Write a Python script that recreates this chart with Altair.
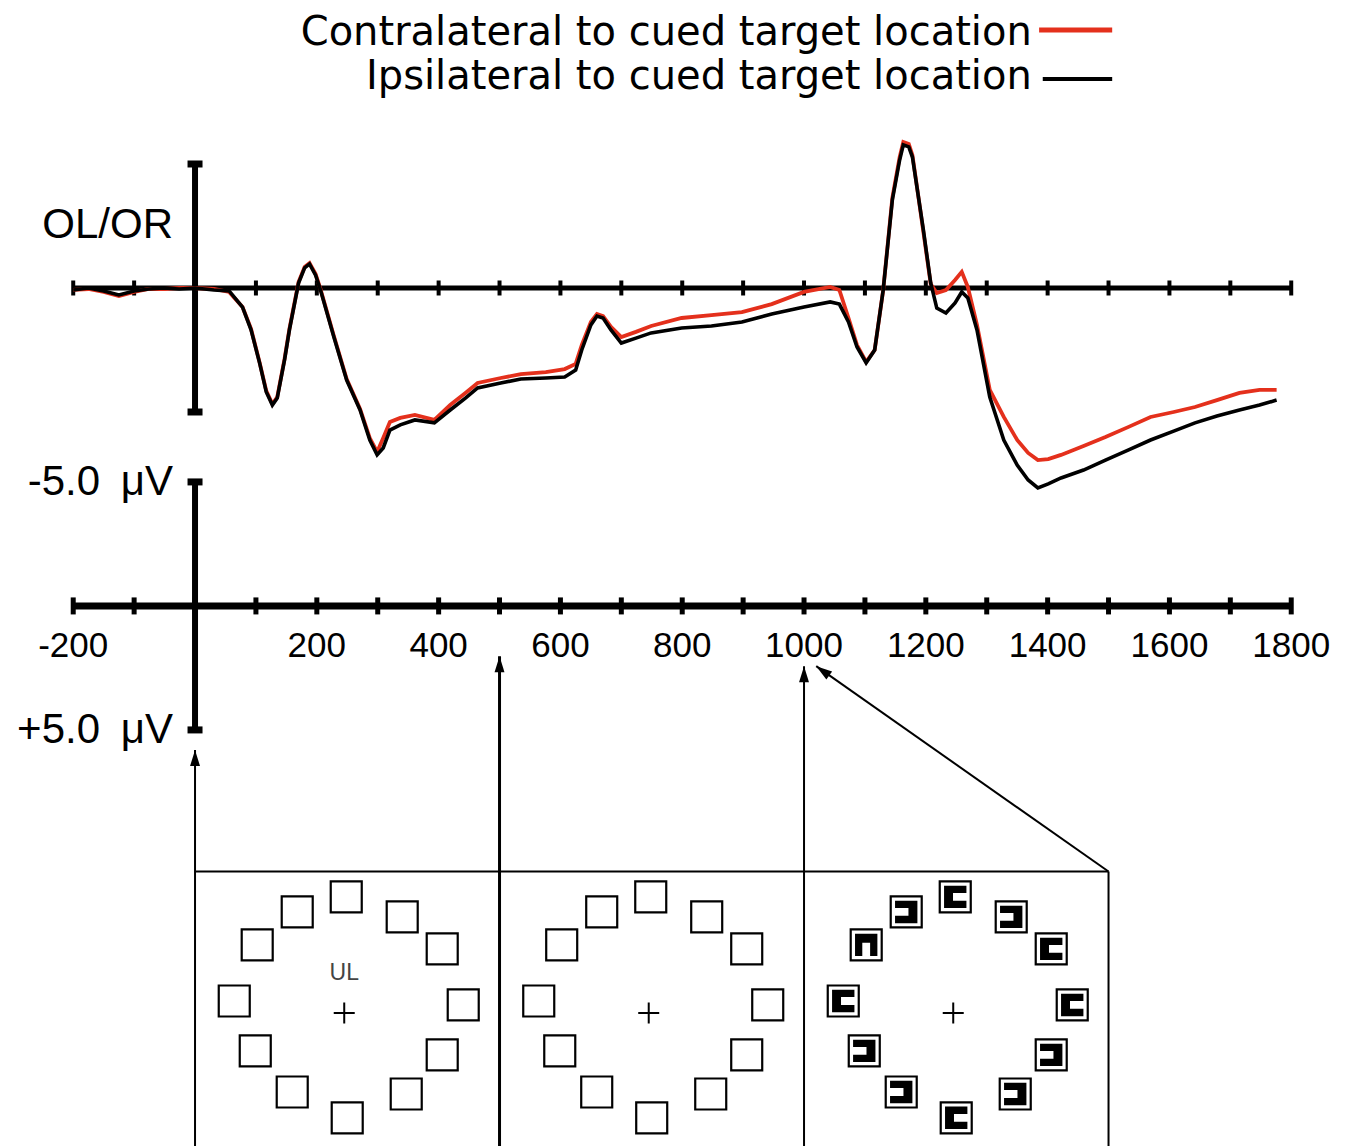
import altair as alt
import pandas as pd

# ---------------- data ----------------
TIME_MS = [-200, -175, -150, -125, -100, -76, -51, -26, 0, 31, 56, 78, 92, 106, 117, 127, 135, 147,
           155, 170, 180, 188, 198, 206, 228, 249, 271, 287, 299, 309, 320, 337, 361, 393, 419, 444,
           464, 502, 535, 576, 607, 625, 635, 650, 660, 670, 683, 700, 724, 749, 799, 848, 898, 947,
           1000, 1043, 1058, 1073, 1087, 1102, 1116, 1130, 1145, 1157, 1163, 1172, 1178, 1196, 1208,
           1218, 1233, 1248, 1259, 1269, 1284, 1305, 1328, 1350, 1368, 1384, 1401, 1422, 1459, 1495,
           1533, 1569, 1607, 1642, 1678, 1715, 1748, 1776]

# microvolts, negative plotted upward
IPSI_UV = [0.08, 0.0, 0.12, 0.28, 0.12, 0.04, 0.0, 0.04, 0.0, 0.08, 0.12, 0.77, 1.69, 3.02, 4.19,
           4.72, 4.44, 2.90, 1.69, -0.20, -0.81, -0.97, -0.52, 0.08, 1.98, 3.71, 4.92, 6.13, 6.73,
           6.45, 5.73, 5.52, 5.32, 5.44, 4.92, 4.44, 4.03, 3.83, 3.67, 3.63, 3.59, 3.31, 2.50, 1.49,
           1.13, 1.21, 1.69, 2.22, 2.02, 1.81, 1.61, 1.53, 1.37, 1.05, 0.77, 0.56, 0.65, 1.37, 2.38,
           3.02, 2.50, 0.08, -3.55, -5.16, -5.77, -5.69, -5.28, -2.34, -0.20, 0.81, 1.01, 0.60, 0.16,
           0.40, 1.69, 4.40, 6.13, 7.14, 7.74, 8.06, 7.90, 7.66, 7.34, 6.94, 6.53, 6.13, 5.77, 5.44,
           5.16, 4.92, 4.72, 4.52]

CONTRA_UV = [0.08, 0.04, 0.16, 0.32, 0.16, 0.04, 0.04, 0.0, 0.0, 0.04, 0.16, 0.77, 1.65, 3.00, 4.15,
             4.68, 4.40, 2.86, 1.65, -0.24, -0.85, -1.00, -0.56, 0.04, 1.94, 3.67, 4.88, 6.05, 6.61,
             6.05, 5.40, 5.24, 5.12, 5.32, 4.72, 4.23, 3.83, 3.63, 3.47, 3.39, 3.27, 3.06, 2.30, 1.37,
             1.05, 1.13, 1.57, 1.98, 1.77, 1.53, 1.21, 1.09, 0.97, 0.65, 0.16, -0.04, 0.08, 1.21, 2.30,
             2.98, 2.50, 0.08, -3.63, -5.28, -5.89, -5.81, -5.36, -2.26, -0.16, 0.20, 0.08, -0.32,
             -0.65, -0.04, 1.49, 4.11, 5.20, 6.13, 6.65, 6.94, 6.90, 6.73, 6.37, 6.01, 5.60, 5.20,
             5.00, 4.80, 4.52, 4.23, 4.11, 4.11]

LEGEND_LABELS = ["Contralateral to cued target location", "Ipsilateral to cued target location"]
TICK_VALUES = list(range(-200, 1801, 100))
TICK_LABELS = [-200, 200, 400, 600, 800, 1000, 1200, 1400, 1600, 1800]
SCALE_TEXT = ["-5.0", "+5.0"]
SCALE_UV = 5.0
LOWER_BASE = 12.82          # offset of the calibration axis (in µV units below the waveform)
EPOCH = [-200, 1800]

PANEL_EDGES_MS = [0, 500, 1000, 1500]
PANEL_CENTERS_MS = [245, 745, 1245]
PANEL_TOP = 23.53
PANEL_MID = 29.23
RING_DX = [3.3, -77.2, 95.2, -142.9, 160.9, -180.6, 195.4, -146.1, 160.9, -85.4, 101.8, 4.9]
RING_DY = [-4.68, -4.07, -3.87, -2.74, -2.58, -0.48, -0.32, 1.53, 1.69, 3.19, 3.27, 4.23]
GLYPH_OPEN = ["R", "L", "L", "D", "R", "R", "R", "L", "L", "L", "L", "R"]

RED = "#e4301c"

# ---------------- scales ----------------
X0, X1 = -307.1, 1896.5
Y0 = -11.29
Y1 = Y0 + 1126 / 24.8
XS = alt.Scale(domain=[X0, X1], nice=False, zero=False)
YS = alt.Scale(domain=[Y0, Y1], nice=False, zero=False, reverse=True)


def X(f):
    return alt.X(f, type="quantitative", scale=XS, axis=None)


def Y(f):
    return alt.Y(f, type="quantitative", scale=YS, axis=None)


SANS = "Liberation Sans, Arial, sans-serif"
NARROW = "Liberation Sans Narrow, Arial Narrow, Liberation Sans, sans-serif"

# ---------------- waveforms ----------------
contra = pd.DataFrame({"t": TIME_MS, "uv": CONTRA_UV})
ipsi = pd.DataFrame({"t": TIME_MS, "uv": IPSI_UV})
red_line = alt.Chart(contra).mark_line(color=RED, strokeWidth=3.8).encode(x=X("t"), y=Y("uv"))
black_line = alt.Chart(ipsi).mark_line(color="black", strokeWidth=3.6).encode(x=X("t"), y=Y("uv"))

# ---------------- axes ----------------
axes_df = pd.DataFrame({"t0": [EPOCH[0], EPOCH[0]], "t1": [EPOCH[1], EPOCH[1]],
                        "v": [0.0, LOWER_BASE]})
upper_line = alt.Chart(axes_df.iloc[[0]]).mark_rule(color="black", strokeWidth=5).encode(
    x=X("t0"), x2="t1", y=Y("v"))
lower_line = alt.Chart(axes_df.iloc[[1]]).mark_rule(color="black", strokeWidth=7).encode(
    x=X("t0"), x2="t1", y=Y("v"))

ticks_up = alt.Chart(pd.DataFrame({"t": TICK_VALUES, "v": 0.0})).mark_tick(
    orient="vertical", size=15, thickness=4, color="black", opacity=1).encode(x=X("t"), y=Y("v"))
ticks_low = alt.Chart(pd.DataFrame({"t": TICK_VALUES, "v": LOWER_BASE})).mark_tick(
    orient="vertical", size=17, thickness=5, color="black", opacity=1).encode(x=X("t"), y=Y("v"))

bars_df = pd.DataFrame({"t": [0, 0], "a": [-SCALE_UV, LOWER_BASE - SCALE_UV],
                        "b": [SCALE_UV, LOWER_BASE + SCALE_UV]})
bars = alt.Chart(bars_df).mark_rule(color="black", strokeWidth=6).encode(
    x=X("t"), y=Y("a"), y2="b")
caps_df = pd.DataFrame({"t": [0, 0, 0, 0],
                        "v": [-SCALE_UV, SCALE_UV, LOWER_BASE - SCALE_UV, LOWER_BASE + SCALE_UV]})
caps = alt.Chart(caps_df).mark_tick(orient="horizontal", size=15, thickness=7, color="black",
                                    opacity=1).encode(x=X("t"), y=Y("v"))

tick_labels = alt.Chart(pd.DataFrame({"t": TICK_LABELS, "v": LOWER_BASE,
                                      "lab": [str(v) for v in TICK_LABELS]})).mark_text(
    font=NARROW, fontSize=35, baseline="alphabetic", align="center", dy=51, color="black").encode(
    x=X("t"), y=Y("v"), text="lab:N")

scale_df = pd.DataFrame({"t": [0, 0], "v": [LOWER_BASE - SCALE_UV, LOWER_BASE + SCALE_UV],
                         "num": SCALE_TEXT, "unit": ["μV", "μV"]})
scale_num = alt.Chart(scale_df).mark_text(
    font=SANS, fontSize=42, align="right", baseline="alphabetic", dx=-95, dy=13,
    color="black").encode(x=X("t"), y=Y("v"), text="num:N")
scale_unit = alt.Chart(scale_df).mark_text(
    font=SANS, fontSize=42, align="right", baseline="alphabetic", dx=-22, dy=13,
    color="black").encode(x=X("t"), y=Y("v"), text="unit:N")

olor = alt.Chart(pd.DataFrame({"t": [0], "v": [-2.0], "lab": ["OL/OR"]})).mark_text(
    font=SANS, fontSize=42, align="right", baseline="alphabetic", dx=-22,
    color="black").encode(x=X("t"), y=Y("v"), text="lab:N")

# ---------------- legend ----------------
leg_df = pd.DataFrame({"t": [1374, 1374], "v": [-9.78, -8.02], "lab": LEGEND_LABELS})
leg_text = alt.Chart(leg_df).mark_text(
    font="DejaVu Sans", fontSize=40, align="right", baseline="alphabetic",
    color="black").encode(x=X("t"), y=Y("v"), text="lab:N")
leg_red = alt.Chart(pd.DataFrame({"a": [1386], "b": [1506], "v": [-10.40]})).mark_rule(
    color=RED, strokeWidth=5).encode(x=X("a"), x2="b", y=Y("v"))
leg_black = alt.Chart(pd.DataFrame({"a": [1392], "b": [1506], "v": [-8.43]})).mark_rule(
    color="black", strokeWidth=4).encode(x=X("a"), x2="b", y=Y("v"))

# ---------------- stimulus panels and arrows ----------------
BOTTOM = 34.6
panel_top = alt.Chart(pd.DataFrame({"a": [PANEL_EDGES_MS[0]], "b": [PANEL_EDGES_MS[-1]],
                                    "v": [PANEL_TOP]})).mark_rule(
    color="black", strokeWidth=2).encode(x=X("a"), x2="b", y=Y("v"))

vert_df = pd.DataFrame({"t": PANEL_EDGES_MS,
                        "top": [18.63, 14.85, 15.25, PANEL_TOP],
                        "bot": [BOTTOM, BOTTOM, BOTTOM, BOTTOM],
                        "w": [2.0, 3.0, 2.0, 2.0]})
verts = alt.Chart(vert_df).mark_rule(color="black").encode(
    x=X("t"), y=Y("top"), y2="bot",
    strokeWidth=alt.StrokeWidth("w:Q", scale=None))
diag = alt.Chart(pd.DataFrame({"a": [1500], "va": [PANEL_TOP], "b": [1020], "vb": [15.25]})).mark_rule(
    color="black", strokeWidth=2).encode(x=X("a"), y=Y("va"), x2="b", y2="vb")

ARROW = "M0,0L-0.62,2L0.62,2Z"
heads_df = pd.DataFrame({"t": [0, 500, 1000, 1020], "v": [18.63, 14.85, 15.25, 15.25],
                         "ang": [0, 0, 0, 305.4]})
heads = alt.Chart(heads_df).mark_point(shape=ARROW, filled=True, color="black", size=256,
                                       opacity=1, strokeWidth=0).encode(
    x=X("t"), y=Y("v"), angle=alt.Angle("ang:Q", scale=None))

ring_rows = []
for p, c in enumerate(PANEL_CENTERS_MS):
    for i in range(len(RING_DX)):
        ring_rows.append({"panel": p, "t": c + RING_DX[i], "v": PANEL_MID + RING_DY[i],
                          "open": GLYPH_OPEN[i]})
ring = pd.DataFrame(ring_rows)
squares = alt.Chart(ring).mark_point(shape="square", filled=False, color="black", strokeWidth=2.2,
                                     size=961, opacity=1).encode(x=X("t"), y=Y("v"))

PATH_R = "M-1,-1L1,-1L1,-0.35L-0.2,-0.35L-0.2,0.35L1,0.35L1,1L-1,1Z"
PATH_L = "M1,-1L-1,-1L-1,-0.35L0.2,-0.35L0.2,0.35L-1,0.35L-1,1L1,1Z"
PATH_D = "M-1,1L-1,-1L1,-1L1,1L0.35,1L0.35,-0.2L-0.35,-0.2L-0.35,1Z"
glyphs = alt.Chart(ring[ring.panel == 2]).mark_point(filled=True, color="black", size=500,
                                                     opacity=1, strokeWidth=0).encode(
    x=X("t"), y=Y("v"),
    shape=alt.Shape("open:N", scale=alt.Scale(domain=["R", "L", "D"],
                                              range=[PATH_R, PATH_L, PATH_D]), legend=None))

fix = alt.Chart(pd.DataFrame({"t": PANEL_CENTERS_MS, "v": [PANEL_MID] * 3})).mark_point(
    shape="M-1,0L1,0M0,-1L0,1", filled=False, color="black", strokeWidth=2, size=441,
    opacity=1).encode(x=X("t"), y=Y("v"))

ul = alt.Chart(pd.DataFrame({"t": [PANEL_CENTERS_MS[0]], "v": [PANEL_MID - 1.61],
                             "lab": ["UL"]})).mark_text(
    font=NARROW, fontSize=23, color="#444444", baseline="middle", align="center").encode(
    x=X("t"), y=Y("v"), text="lab:N")

chart = alt.layer(
    panel_top, verts, diag, heads, squares, glyphs, fix, ul,
    upper_line, ticks_up, lower_line, ticks_low, bars, caps,
    tick_labels, scale_num, scale_unit, olor,
    leg_text, leg_red, leg_black,
    red_line, black_line,
).properties(width=1342, height=1126, padding=0, background="white").configure_view(stroke=None)

chart.save("out.html", embed_options={"renderer": "svg", "actions": False})
